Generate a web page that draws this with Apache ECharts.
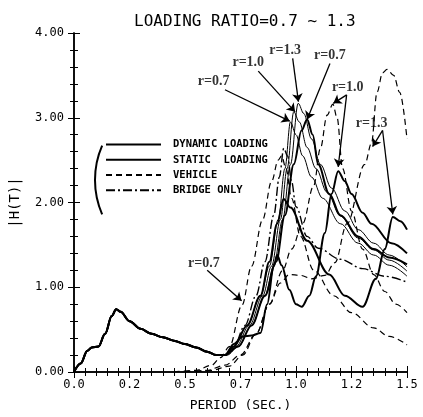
<!DOCTYPE html>
<html>
<head>
<meta charset="utf-8">
<script src="https://cdn.jsdelivr.net/npm/echarts@6/dist/echarts.min.js"></script>
<style>
  html, body { margin: 0; padding: 0; background: #fff; }
  #chart { width: 423px; height: 417px; }
</style>
</head>
<body>
<div id="chart"></div>
<script>
// tick labels as printed on the plot (ticks every 0.25 s, printed truncated)
const xTickLabels = ['0.0', '0.2', '0.5', '0.7', '1.0', '1.2', '1.5'];
const yTickLabels = ['0.00', '1.00', '2.00', '3.00', '4.00'];

// part shared by bridge / dynamic / static curves  [period, |H(T)|]
const lowPart = [[0,0],[0.03,0.1],[0.06,0.25],[0.08,0.29],[0.11,0.3],[0.14,0.45],[0.17,0.66],[0.19,0.74],[0.21,0.71],
  [0.25,0.6],[0.3,0.51],[0.35,0.45],[0.4,0.41],[0.45,0.37],[0.5,0.33],[0.55,0.29],[0.6,0.24],[0.64,0.2]];

// dynamic loading, r = 0.7 / 1.0 / 1.3
const dyn07 = [[0.68,0.2],[0.74,0.3],[0.8,0.55],[0.86,0.9],[0.91,1.3],[0.95,1.85],[0.99,2.45],[1.025,2.85],[1.05,2.98],
  [1.075,2.8],[1.1,2.45],[1.15,2.1],[1.2,1.85],[1.28,1.6],[1.35,1.45],[1.42,1.35],[1.5,1.27]];
const dyn10 = [[0.68,0.2],[0.72,0.33],[0.76,0.42],[0.8,0.43],[0.84,0.46],[0.87,0.8],[0.9,1.25],[0.915,1.38],[0.935,1.26],
  [0.97,0.97],[1.0,0.8],[1.026,0.77],[1.06,0.9],[1.09,1.13],[1.13,1.64],[1.16,2.1],[1.19,2.37],[1.22,2.25],[1.25,2.1],
  [1.3,1.88],[1.34,1.75],[1.43,1.52],[1.5,1.4]];
const dyn13 = [[0.68,0.2],[0.72,0.3],[0.78,0.55],[0.84,0.9],[0.88,1.3],[0.915,1.75],[0.944,2.04],[0.975,1.94],[1.05,1.55],
  [1.15,1.15],[1.22,0.9],[1.3,0.77],[1.36,1.1],[1.4,1.45],[1.436,1.83],[1.47,1.78],[1.5,1.68]];

// static loading
const sta07 = [[0.68,0.2],[0.72,0.3],[0.78,0.55],[0.84,0.9],[0.88,1.25],[0.92,1.8],[0.95,2.4],[0.975,2.95],[1.0,2.8],
  [1.03,2.55],[1.07,2.3],[1.12,2.05],[1.2,1.75],[1.28,1.52],[1.35,1.38],[1.42,1.26],[1.5,1.13]];
const sta10 = [[0.68,0.2],[0.73,0.3],[0.79,0.55],[0.85,0.9],[0.89,1.25],[0.93,1.8],[0.96,2.4],[0.99,3.07],[1.015,2.95],
  [1.05,2.65],[1.09,2.4],[1.14,2.12],[1.2,1.84],[1.28,1.58],[1.35,1.44],[1.42,1.32],[1.5,1.19]];
const sta13 = [[0.69,0.2],[0.74,0.3],[0.8,0.55],[0.86,0.9],[0.9,1.25],[0.94,1.8],[0.975,2.45],[1.01,3.17],[1.035,3.05],
  [1.07,2.75],[1.11,2.45],[1.16,2.17],[1.22,1.9],[1.28,1.68],[1.35,1.52],[1.42,1.38],[1.5,1.24]];

// vehicle
const veh07 = [[0.45,0],[0.55,0.02],[0.62,0.08],[0.66,0.17],[0.7,0.3],[0.757,0.79],[0.8,1.25],[0.85,1.8],[0.89,2.25],
  [0.92,2.5],[0.935,2.55],[0.955,2.4],[0.98,2.05],[1.02,1.6],[1.08,1.2],[1.17,0.9],[1.25,0.7],[1.35,0.52],[1.42,0.42],[1.5,0.32]];
const veh10 = [[0.5,0],[0.6,0.02],[0.68,0.08],[0.75,0.2],[0.82,0.45],[0.88,0.8],[0.94,1.2],[0.98,1.45],[1.03,1.75],[1.08,2.2],
  [1.11,2.64],[1.14,3.03],[1.166,3.16],[1.185,3.0],[1.21,2.4],[1.25,1.9],[1.3,1.45],[1.35,1.15],[1.4,0.95],[1.45,0.8],[1.5,0.7]];
const veh13 = [[0.55,0],[0.62,0.02],[0.7,0.07],[0.76,0.2],[0.82,0.45],[0.88,0.8],[0.93,1.05],[0.97,1.15],[1.02,1.14],
  [1.07,1.1],[1.13,1.14],[1.175,1.29],[1.23,1.75],[1.31,2.45],[1.34,2.7],[1.365,3.3],[1.39,3.53],[1.41,3.57],[1.44,3.5],
  [1.467,3.3],[1.5,2.75]];

// bridge only
const bridge = [[0.68,0.2],[0.72,0.3],[0.77,0.55],[0.82,0.9],[0.86,1.3],[0.9,1.85],[0.925,2.3],[0.945,2.64],[0.962,2.55],
  [0.98,2.25],[1.0,1.95],[1.05,1.6],[1.1,1.46],[1.2,1.33],[1.3,1.22],[1.4,1.13],[1.5,1.06]];

// annotations
const noteText = ['r=0.7', 'r=1.0', 'r=1.3', 'r=0.7', 'r=1.0', 'r=1.3', 'r=0.7'];
const notePos = [[0.629,3.43],[0.785,3.65],[0.951,3.8],[1.153,3.74],[1.233,3.36],[1.341,2.93],[0.585,1.28]];
const arrows = [
  [0.68,3.33,0.972,2.96], [0.83,3.55,0.996,3.07], [0.985,3.7,1.011,3.19], [1.153,3.64,1.05,2.98],
  [1.228,3.27,1.168,3.17], [1.228,3.27,1.19,2.42], [1.39,2.85,1.345,2.66], [1.39,2.85,1.436,1.86],
  [0.6,1.2,0.755,0.84]
];

const MONO = 'DejaVu Sans Mono';
const DYN = 'DYNAMIC LOADING', STA = 'STATIC  LOADING', VEH = 'VEHICLE', BRI = 'BRIDGE ONLY';

function curve(name, data, lineStyle) {
  return {
    name, type: 'line', data, symbol: 'none', smooth: 0.35, smoothMonotone: 'x',
    lineStyle: Object.assign({ color: '#000' }, lineStyle),
    itemStyle: { color: '#000' }
  };
}

const thick = { width: 2 };
const thin = { width: 1 };
const dashed = { width: 1.2, type: [6, 4] };
const dashDot = { width: 1.4, type: [9, 3, 2, 3] };

function axisCommon() {
  return {
    type: 'value',
    axisLine: { lineStyle: { color: '#000', width: 1.5 } },
    axisTick: { inside: true, length: 6, lineStyle: { color: '#000' } },
    minorTick: { show: true, splitNumber: 5, length: 4, lineStyle: { color: '#000' } },
    splitLine: { show: false }
  };
}

const chart = echarts.init(document.getElementById('chart'));

chart.setOption({
  animation: false,
  backgroundColor: '#fff',
  title: {
    text: 'LOADING RATIO=0.7 ~ 1.3', left: 129, top: 9,
    textStyle: { fontFamily: MONO, fontSize: 16, fontWeight: 'normal', color: '#000' }
  },
  grid: { left: 73, right: 16, top: 33, bottom: 39 },
  legend: {
    data: [DYN, STA, VEH, BRI], orient: 'vertical', left: 105, top: 139,
    itemWidth: 55, itemHeight: 14, itemGap: 4, padding: 0, selectedMode: false,
    itemStyle: { color: 'transparent', borderColor: 'transparent', borderWidth: 0 },
    textStyle: { fontFamily: MONO, fontWeight: 'bold', fontSize: 10.5, color: '#000', padding: [0, 0, 0, 7] }
  },
  xAxis: [
    Object.assign(axisCommon(), {
      min: 0, max: 1.5, interval: 0.25, position: 'bottom',
      name: 'PERIOD (SEC.)', nameLocation: 'middle', nameGap: 27,
      nameTextStyle: { fontFamily: MONO, fontSize: 13, color: '#000' },
      axisLabel: { formatter: v => xTickLabels[Math.round(v / 0.25)], fontFamily: MONO, fontSize: 12, color: '#000', margin: 7 }
    }),
    Object.assign(axisCommon(), { min: 0, max: 1.5, interval: 0.25, position: 'top', axisLabel: { show: false } })
  ],
  yAxis: [
    Object.assign(axisCommon(), {
      min: 0, max: 4, interval: 1, position: 'left',
      name: '|H(T)|', nameLocation: 'middle', nameGap: 52, nameRotate: 90,
      nameTextStyle: { fontFamily: MONO, fontSize: 14, color: '#000' },
      axisLabel: { formatter: v => yTickLabels[Math.round(v)], fontFamily: MONO, fontSize: 12, color: '#000', margin: 10 }
    }),
    Object.assign(axisCommon(), { min: 0, max: 4, interval: 1, position: 'right', axisLabel: { show: false } })
  ],
  graphic: [{
    type: 'arc',
    shape: { cx: 181, cy: 180, r: 86, startAngle: Math.PI - 0.41, endAngle: Math.PI + 0.41 },
    style: { stroke: '#000', lineWidth: 2, fill: null }
  }],
  series: [
    curve(DYN, lowPart.concat(dyn07), thick),
    curve(DYN, lowPart.concat(dyn10), thick),
    curve(DYN, lowPart.concat(dyn13), thick),
    curve(STA, lowPart.concat(sta07), thin),
    curve(STA, lowPart.concat(sta10), thin),
    curve(STA, lowPart.concat(sta13), thin),
    curve(VEH, veh07, dashed),
    curve(VEH, veh10, dashed),
    curve(VEH, veh13, dashed),
    curve(BRI, lowPart.concat(bridge), dashDot),
    {
      name: 'arrows', type: 'line', data: [], symbol: 'none',
      markLine: {
        silent: true, symbol: ['none', 'arrow'], symbolSize: 8,
        lineStyle: { color: '#000', width: 1.3, type: 'solid' },
        label: { show: false },
        data: arrows.map(a => [{ coord: [a[0], a[1]] }, { coord: [a[2], a[3]] }])
      }
    },
    {
      name: 'notes', type: 'scatter', symbolSize: 1, silent: true,
      itemStyle: { color: 'transparent' },
      data: notePos.map((p, i) => ({ value: p, name: noteText[i] })),
      label: {
        show: true, position: 'inside', formatter: '{b}',
        fontFamily: 'Liberation Serif', fontWeight: 'bold', fontSize: 14, color: '#000'
      }
    }
  ]
});
</script>
</body>
</html>
